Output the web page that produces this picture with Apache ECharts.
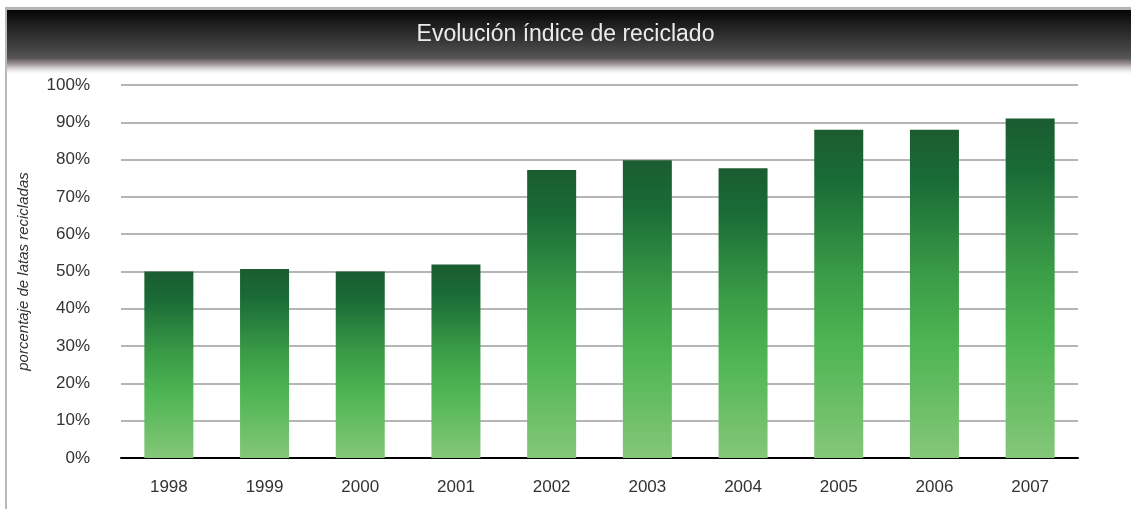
<!DOCTYPE html>
<html>
<head>
<meta charset="utf-8">
<script src="https://cdn.jsdelivr.net/npm/echarts@6/dist/echarts.min.js"></script>
<style>
  html, body { margin: 0; padding: 0; background: #fff; }
  #chart { width: 1131px; height: 509px; }
</style>
</head>
<body>
<div id="chart"></div>
<script>
var years = ['1998', '1999', '2000', '2001', '2002', '2003', '2004', '2005', '2006', '2007'];
var reciclado = [50, 50.7, 50, 51.9, 77.2, 79.8, 77.7, 88, 88, 91];
var yTicks = [0, 10, 20, 30, 40, 50, 60, 70, 80, 90, 100];

var chart = echarts.init(document.getElementById('chart'));

var barColor = new echarts.graphic.LinearGradient(0, 0, 0, 1, [
    { offset: 0, color: '#1b5c30' },
    { offset: 0.15, color: '#196b36' },
    { offset: 0.45, color: '#3b9d47' },
    { offset: 0.65, color: '#4db552' },
    { offset: 1, color: '#84c778' }
]);

option = {
    animation: false,
    backgroundColor: '#fff',
    graphic: [
        // left and top frame lines
        { type: 'rect', shape: { x: 5, y: 7, width: 2, height: 502 }, style: { fill: '#b8b8b8' } },
        { type: 'rect', shape: { x: 5, y: 7, width: 1126, height: 3 }, style: { fill: '#b4b4b4' } },
        // shadow under the header
        {
            type: 'rect', shape: { x: 7, y: 58, width: 1124, height: 17 },
            style: {
                fill: new echarts.graphic.LinearGradient(0, 0, 0, 1, [
                    { offset: 0, color: 'rgba(88,82,84,1)' },
                    { offset: 0.35, color: 'rgba(140,128,133,0.85)' },
                    { offset: 0.7, color: 'rgba(200,194,197,0.5)' },
                    { offset: 1, color: 'rgba(255,255,255,0)' }
                ])
            }
        },
        // header bar
        {
            type: 'rect', shape: { x: 7, y: 10, width: 1124, height: 48 },
            style: {
                fill: new echarts.graphic.LinearGradient(0, 0, 0, 1, [
                    { offset: 0, color: '#050505' },
                    { offset: 0.3, color: '#1e1e1e' },
                    { offset: 0.7, color: '#3c3c3c' },
                    { offset: 1, color: '#555555' }
                ])
            }
        },
        {
            type: 'text', left: 'center', top: 23,
            style: {
                text: 'Evolución índice de reciclado',
                fill: '#ececec',
                font: '23px "Liberation Sans", Arial, sans-serif'
            }
        }
    ],
    grid: {
        left: 121,
        right: 53,
        top: 85,
        bottom: 51,
        containLabel: false
    },
    xAxis: {
        type: 'category',
        data: years,
        axisLine: { lineStyle: { color: '#000', width: 2 } },
        axisTick: { show: false },
        axisLabel: {
            color: '#333',
            fontSize: 17,
            fontFamily: '"Liberation Sans", Arial, sans-serif',
            margin: 21
        }
    },
    yAxis: {
        type: 'value',
        min: 0,
        max: 100,
        interval: 10,
        name: 'porcentaje de latas recicladas',
        nameLocation: 'middle',
        nameGap: 90,
        nameTextStyle: {
            color: '#333',
            fontSize: 15,
            fontStyle: 'italic',
            fontFamily: '"Liberation Sans", Arial, sans-serif'
        },
        axisLine: { show: false },
        axisTick: { show: false },
        splitLine: { lineStyle: { color: '#b5b5b5', width: 2 } },
        axisLabel: {
            color: '#333',
            fontSize: 17,
            fontFamily: '"Liberation Sans", Arial, sans-serif',
            margin: 31,
            padding: [3, 0, 0, 0],
            formatter: function (v) {
                return yTicks.indexOf(v) >= 0 ? v + '%' : '';
            }
        }
    },
    series: [{
        name: 'reciclado',
        type: 'bar',
        barWidth: 49,
        itemStyle: { color: barColor },
        data: reciclado
    }]
};

chart.setOption(option);
</script>
</body>
</html>
